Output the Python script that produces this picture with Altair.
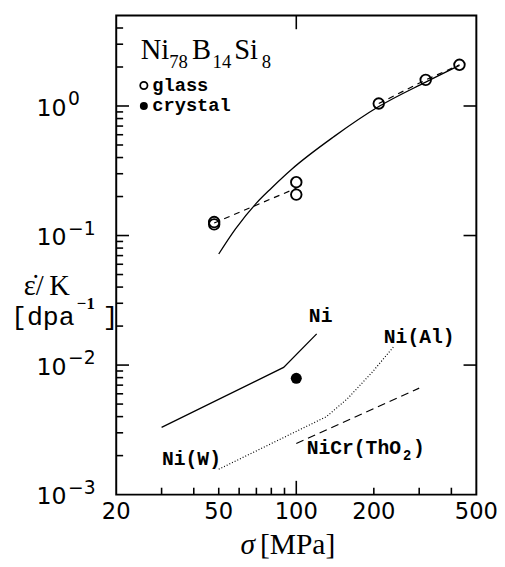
import altair as alt
import pandas as pd

# ---------------- data ----------------
glass_sigma = [48, 48, 100, 100, 209, 318, 430]
glass_rate = [0.127, 0.122, 0.258, 0.207, 1.045, 1.59, 2.08]

crystal_sigma = [100]
crystal_rate = [0.0079]

fit_sigma = [50, 58, 70, 80, 96, 140, 209, 318, 430]
fit_rate = [0.072, 0.112, 0.178, 0.232, 0.325, 0.58, 0.99, 1.53, 2.06]

dash_low_sigma = [48, 100]
dash_low_rate = [0.125, 0.232]
dash_high_sigma = [209, 318, 430]
dash_high_rate = [1.045, 1.59, 2.08]

ni_sigma = [30, 89.3, 120]
ni_rate = [0.0033, 0.0096, 0.0174]

niw_sigma = [50, 131, 158, 197, 240]
niw_rate = [0.00157, 0.004, 0.0055, 0.0088, 0.014]

nicr_sigma = [100, 300]
nicr_rate = [0.00248, 0.00664]

x_tick_labels = [20, 50, 100, 200, 500]
x_minor_ticks = [30, 40, 50, 60, 70, 80, 90, 200, 300, 400]
x_major_ticks = [100]
y_decades = [1, 0.1, 0.01, 0.001]
y_exponents = ["0", "\u22121", "\u22122", "\u22123"]
y_major_ticks = [1, 0.1, 0.01]
y_minor_mult = [2, 3, 4, 5, 6, 7, 8, 9]
y_minor_ticks = [round(d * m, 6) for d in [0.001, 0.01, 0.1] for m in y_minor_mult] + [2, 3, 4]

title_parts = ["Ni", "78", "B", "14", "Si", "8"]

W, H = 366, 487
XMIN, XMAX = 20, 500
YMIN, YMAX = 0.001, 5
XS = alt.Scale(type="log", domain=[XMIN, XMAX], nice=False)
YS = alt.Scale(type="log", domain=[YMIN, YMAX], nice=False)


def df(xs, ys, **extra):
    d = pd.DataFrame({"s": xs, "r": ys})
    for k, v in extra.items():
        d[k] = v
    return d


def enc():
    return dict(
        x=alt.X("s:Q", scale=XS, axis=None),
        y=alt.Y("r:Q", scale=YS, axis=None),
    )


layers = []

# ---------------- inward ticks on all four sides ----------------
def xf(px):
    return (XMAX / XMIN) ** (px / W)


def yf(px):
    return (YMAX / YMIN) ** (px / H)


TICK_COLOR = "black"
TICK_W = 1.6


def seg_ticks(xs, x2s, ys, y2s):
    d = pd.DataFrame({"s": xs, "s2": x2s, "r": ys, "r2": y2s})
    return alt.Chart(d).mark_rule(color=TICK_COLOR, strokeWidth=TICK_W).encode(
        x=alt.X("s:Q", scale=XS, axis=None), x2="s2:Q",
        y=alt.Y("r:Q", scale=YS, axis=None), y2="r2:Q")


def yticks(vals, x0, x1):
    n = len(vals)
    return seg_ticks([x0] * n, [x1] * n, vals, vals)


def xticks(vals, y0, y1):
    n = len(vals)
    return seg_ticks(vals, vals, [y0] * n, [y1] * n)


# glass fit curve
layers.append(alt.Chart(df(fit_sigma, fit_rate)).mark_line(
    color="black", strokeWidth=1.3, interpolate="monotone").encode(**enc()))
# dashed glass segments
layers.append(alt.Chart(df(dash_low_sigma, dash_low_rate)).mark_line(
    color="black", strokeWidth=1.2, strokeDash=[6, 5]).encode(**enc()))
layers.append(alt.Chart(df(dash_high_sigma, dash_high_rate)).mark_line(
    color="black", strokeWidth=1.2, strokeDash=[6, 5]).encode(**enc()))
# Ni
layers.append(alt.Chart(df(ni_sigma, ni_rate)).mark_line(
    color="black", strokeWidth=1.3).encode(**enc()))
# Ni(W) / Ni(Al)
layers.append(alt.Chart(df(niw_sigma, niw_rate)).mark_line(
    color="black", strokeWidth=1.2, strokeDash=[1, 2]).encode(**enc()))
# NiCr(ThO2)
layers.append(alt.Chart(df(nicr_sigma, nicr_rate)).mark_line(
    color="black", strokeWidth=1.2, strokeDash=[8, 5]).encode(**enc()))

layers.append(yticks(y_major_ticks, XMIN, XMIN * xf(13)))
layers.append(yticks(y_minor_ticks, XMIN, XMIN * xf(7)))
layers.append(yticks(y_major_ticks, XMAX, XMAX / xf(13)))
layers.append(xticks(x_minor_ticks, YMIN, YMIN * yf(7)))
layers.append(xticks(x_major_ticks, YMIN, YMIN * yf(14)))
layers.append(xticks(x_major_ticks, YMAX, YMAX / yf(14)))

# glass points
layers.append(alt.Chart(df(glass_sigma, glass_rate)).mark_point(
    shape="circle", filled=False, size=115, strokeWidth=1.9, color="black",
    opacity=1).encode(**enc()))
# crystal point
layers.append(alt.Chart(df(crystal_sigma, crystal_rate)).mark_point(
    shape="circle", filled=True, size=125, color="black",
    opacity=1).encode(**enc()))

# legend symbols and text
layers.append(alt.Chart(df([25.6], [1.44])).mark_point(
    shape="circle", filled=False, size=55, strokeWidth=1.8, color="black",
    opacity=1).encode(**enc()))
layers.append(alt.Chart(df([25.6], [1.0])).mark_point(
    shape="circle", filled=True, size=65, color="black",
    opacity=1).encode(**enc()))
layers.append(alt.Chart(df([27.6, 27.6], [1.311, 0.915], t=["glass", "crystal"])).mark_text(
    align="left", baseline="alphabetic", font="Liberation Mono", fontWeight="bold",
    fontSize=19, color="black").encode(text="t:N", **enc()))

# compound title Ni78B14Si8
title_dx = [0, 29, 52, 73, 95, 123]
title_dy = [0, 9, 0, 9, 0, 9]
title_fs = [29, 19, 29, 19, 29, 19]
for part, dx, dy, fs in zip(title_parts, title_dx, title_dy, title_fs):
    layers.append(alt.Chart(df([24.9], [2.3], t=[part])).mark_text(
        align="left", baseline="alphabetic", font="Liberation Serif",
        fontSize=fs, dx=dx, dy=dy, color="black").encode(text="t:N", **enc()))

# curve labels
lab_font = dict(align="left", baseline="alphabetic", font="Liberation Mono",
                fontWeight="bold", fontSize=20, color="black")
layers.append(alt.Chart(df([111.9, 218.7, 30.1], [0.02167, 0.01493, 0.00168],
                           t=["Ni", "Ni(Al)", "Ni(W)"])).mark_text(**lab_font)
              .encode(text="t:N", **enc()))
layers.append(alt.Chart(df([109.7], [0.002045], t=["NiCr(ThO"])).mark_text(**lab_font)
              .encode(text="t:N", **enc()))
layers.append(alt.Chart(df([109.7], [0.002045], t=["2"])).mark_text(
    align="left", baseline="alphabetic", font="Liberation Mono", fontWeight="bold",
    fontSize=14, dx=98, dy=6, color="black").encode(text="t:N", **enc()))
layers.append(alt.Chart(df([109.7], [0.002045], t=[")"])).mark_text(
    align="left", baseline="alphabetic", font="Liberation Mono", fontWeight="bold",
    fontSize=20, dx=108, color="black").encode(text="t:N", **enc()))

# y tick labels 10^n
layers.append(alt.Chart(df([20] * 4, y_decades, t=["10"] * 4)).mark_text(
    align="left", baseline="alphabetic", font="DejaVu Sans", fontSize=24,
    dx=-81, dy=10, color="black").encode(text="t:N", **enc()))
layers.append(alt.Chart(df([20] * 4, y_decades, t=y_exponents)).mark_text(
    align="left", baseline="alphabetic", font="DejaVu Sans", fontSize=19,
    dx=-49, dy=-1, color="black").encode(text="t:N", **enc()))

# x tick labels
layers.append(alt.Chart(df(x_tick_labels, [0.001] * 5, t=[str(v) for v in x_tick_labels]))
              .mark_text(align="center", baseline="alphabetic", font="DejaVu Sans",
                         fontSize=23, dy=25, color="black")
              .encode(text="t:N", **enc()))

# x title sigma[MPa]
layers.append(alt.Chart(df([100], [0.001], t=["\u03c3"])).mark_text(
    align="right", baseline="alphabetic", font="Liberation Serif", fontStyle="italic",
    fontSize=30, dx=-42, dy=60, color="black").encode(text="t:N", **enc()))
layers.append(alt.Chart(df([100], [0.001], t=["[MPa]"])).mark_text(
    align="left", baseline="alphabetic", font="Liberation Serif",
    fontSize=30, dx=-37, dy=60, color="black").encode(text="t:N", **enc()))

# y title
ytitle = [("\u03b5\u0307/\u2009K", -94, 0, 29, "Liberation Serif", "normal"),
          ("\u22121", -40, 14, 17, "Liberation Serif", "bold"),
          ("[dpa", -107, 30, 27, "Liberation Mono", "normal"),
          ("]", -14, 30, 27, "Liberation Mono", "normal")]
for t, dx, dy, fs, fnt, fw in ytitle:
    layers.append(alt.Chart(df([20], [0.0345], t=[t])).mark_text(
        align="left", baseline="alphabetic", font=fnt, fontWeight=fw,
        fontSize=fs, dx=dx, dy=dy, color="black").encode(text="t:N", **enc()))

chart = alt.layer(*layers).properties(
    width=W, height=H,
    autosize=alt.AutoSizeParams(type="none"),
    padding={"left": 110, "top": 3, "right": 21, "bottom": 69},
    background="white",
).configure_view(stroke="black", strokeWidth=2)

chart.save("out.html", embed_options={"renderer": "svg", "actions": False})
